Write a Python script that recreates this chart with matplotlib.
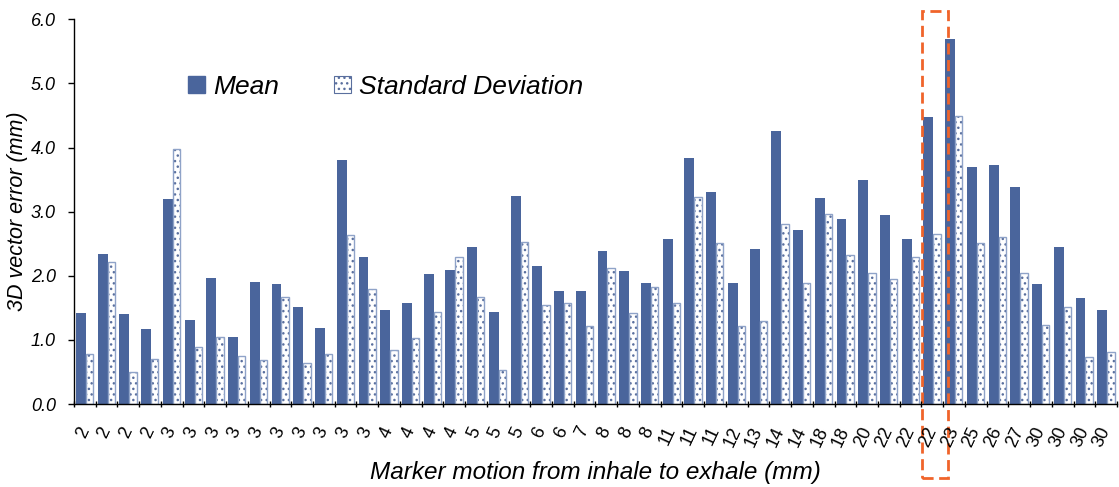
import numpy as np
import matplotlib
matplotlib.use('Agg')
import matplotlib.pyplot as plt
from matplotlib.patches import Patch, Rectangle

# marker motion labels (mm), one per group
motion = ['2', '2', '2', '2', '3', '3', '3', '3', '3', '3', '3', '3', '3', '3',
          '4', '4', '4', '4', '5', '5', '5', '6', '6', '7', '8', '8', '8',
          '11', '11', '11', '12', '13', '14', '14', '18', '18', '20',
          '22', '22', '22', '23', '25', '26', '27', '30', '30', '30', '30']

mean_err = [1.42, 2.34, 1.40, 1.17, 3.20, 1.31, 1.97, 1.05, 1.91, 1.87, 1.52, 1.19,
            3.80, 2.30, 1.47, 1.58, 2.03, 2.09, 2.45, 1.44, 3.25, 2.16, 1.77, 1.77,
            2.38, 2.08, 1.89, 2.57, 3.84, 3.31, 1.89, 2.42, 4.25, 2.71, 3.21, 2.89,
            3.49, 2.94, 2.57, 4.48, 5.70, 3.70, 3.73, 3.39, 1.87, 2.45, 1.66, 1.47]

std_err = [0.78, 2.22, 0.50, 0.70, 3.97, 0.89, 1.04, 0.75, 0.68, 1.67, 0.64, 0.78,
           2.63, 1.79, 0.84, 1.03, 1.44, 2.30, 1.67, 0.53, 2.53, 1.54, 1.57, 1.21,
           2.12, 1.42, 1.83, 1.57, 3.23, 2.51, 1.21, 1.30, 2.80, 1.88, 2.96, 2.32,
           2.04, 1.95, 2.30, 2.65, 4.49, 2.51, 2.61, 2.04, 1.23, 1.52, 0.74, 0.81]

highlight = 39  # group boxed with the dashed frame

plt.rcParams['font.family'] = ['Liberation Sans', 'DejaVu Sans']
plt.rcParams['hatch.linewidth'] = 1.0

BLUE = '#4a659c'
DOTS = '#5a6f9e'
EDGE = '#8fa3c8'

fig = plt.figure(figsize=(11.19, 4.87), dpi=100)
ax = fig.add_axes([0.0661, 0.1704, 0.9321, 0.79])

n = len(motion)
x = np.arange(n)
ax.bar(x + 0.095, mean_err, width=0.455, align='edge', color=BLUE, linewidth=0)
# dotted bars: hatch layer then outline
ax.bar(x + 0.55, std_err, width=0.34, align='edge', color='white',
       edgecolor=DOTS, hatch='...', linewidth=0)
ax.bar(x + 0.55, std_err, width=0.34, align='edge', color='none',
       edgecolor=EDGE, linewidth=1.0)

ax.set_xlim(0, n)
ax.set_ylim(0, 6)
ax.set_yticks(np.arange(0, 6.1, 1.0))
ax.set_yticklabels([f'{v:.1f}' for v in np.arange(0, 6.1, 1.0)],
                   fontsize=13, style='italic')
ax.set_xticks(np.arange(0, n + 1))
ax.set_xticklabels([])
ax.set_xticks(x + 0.5, minor=True)
ax.set_xticklabels(motion, minor=True, rotation=65, fontsize=13,
                   ha='right', va='center', rotation_mode='anchor')
ax.tick_params(axis='x', which='minor', length=0, pad=17)
ax.tick_params(axis='x', which='major', length=5, width=1, direction='inout')
ax.tick_params(axis='y', length=4, width=1, pad=9)

for s in ['top', 'right']:
    ax.spines[s].set_visible(False)
ax.spines['left'].set_linewidth(1)
ax.spines['bottom'].set_linewidth(1)

ax.set_ylabel('3D vector error (mm)', fontsize=15.5, style='italic', labelpad=2)
ax.set_xlabel('Marker motion from inhale to exhale (mm)', fontsize=17.5,
              style='italic', labelpad=8)

handles = [Patch(facecolor=BLUE, edgecolor=BLUE),
           Patch(facecolor='white', edgecolor=DOTS, hatch='...', linewidth=0.8)]
ax.legend(handles, ['Mean', 'Standard Deviation'], loc='center left',
          bbox_to_anchor=(0.109, 0.825), ncol=2, frameon=False,
          prop={'size': 19, 'style': 'italic'}, handlelength=0.65,
          handleheight=0.65, handletextpad=0.3, columnspacing=2.1,
          borderaxespad=0, borderpad=0)

box = Rectangle((highlight + 0.02, -1.15), 1.2, 7.28, fill=False,
                edgecolor='#f0642a', linestyle=(0, (4, 2)), linewidth=2,
                clip_on=False)
ax.add_patch(box)

fig.savefig('out.png', dpi=100)
